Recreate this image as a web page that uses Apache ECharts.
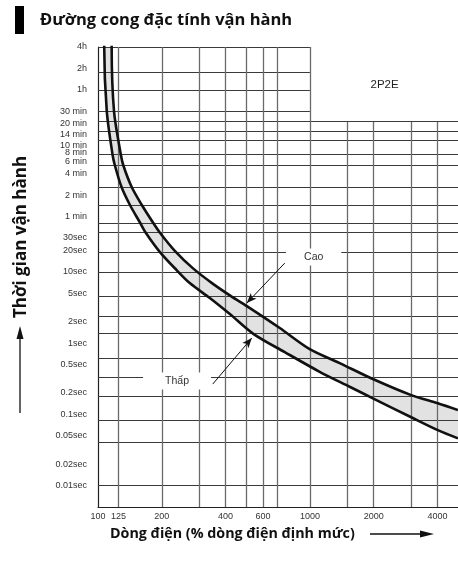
<!DOCTYPE html>
<html><head><meta charset="utf-8">
<script src="https://cdn.jsdelivr.net/npm/echarts@6/dist/echarts.min.js"></script>
<style>html,body{margin:0;padding:0;background:#fff}#c{width:458px;height:562px}</style>
</head><body><div id="c"></div>
<script>
// ---- data ----
const xTickValues = [100, 125, 200, 400, 600, 1000, 2000, 4000];
const xTickLabels = ['100', '125', '200', '400', '600', '1000', '2000', '4000'];
const xGridFull = [125, 200, 300, 400, 500, 600, 700, 1000];
const xGridLower = [1500, 2000, 3000, 4000];

const yTickValues = [14400, 7200, 3600, 1800, 1200, 840, 600, 480, 360, 240, 120, 60, 30, 20, 10, 5, 2, 1, 0.5, 0.2, 0.1, 0.05, 0.02, 0.01];
const yTickLabels = ['4h', '2h', '1h', '30 min', '20 min', '14 min', '10 min', '8 min', '6 min', '4 min', '2 min', '1 min', '30sec', '20sec', '10sec', '5sec', '2sec', '1sec', '0.5sec', '0.2sec', '0.1sec', '0.05sec', '0.02sec', '0.01sec'];
const yGridShort = [14400, 6300, 3500, 1800];
const yGridFull = [1285, 951, 711, 445, 317, 157, 87, 49, 35.5, 18.6, 9.86, 4.58, 2.40, 1.38, 0.622, 0.337, 0.182, 0.083, 0.0407, 0.01];

// curve "Cao" (upper limit): current in % of rated, time in seconds
const highCurrent = [116, 116, 119, 128, 131.5, 144, 161, 182, 196, 231, 280, 345, 424, 504, 721, 998, 1382, 1983, 3008, 4015, 5000];
const highTime = [20000, 14400, 1816, 452, 317, 157, 87, 49, 35.5, 19.6, 11.3, 6.97, 4.58, 3.31, 1.63, 0.824, 0.525, 0.313, 0.186, 0.143, 0.115];
// curve "Thấp" (lower limit)
const lowCurrent = [107, 107, 110, 117, 120, 129, 141.5, 158, 168, 196, 235, 271, 337, 419, 543, 761, 1112, 1540, 1983, 3008, 4015, 5000];
const lowTime = [20000, 14400, 1816, 452, 317, 157, 87, 49, 35.5, 19.0, 10.6, 6.97, 4.30, 2.56, 1.34, 0.748, 0.396, 0.244, 0.168, 0.091, 0.060, 0.046];

// annotations
const caoLabel = {text: 'Cao', at: [1042, 16.2], arrowFrom: [761, 13.3], arrowTo: [504, 3.65]};
const thapLabel = {text: 'Thấp', at: [236, 0.293], arrowFrom: [348, 0.266], arrowTo: [532, 1.18]};
const modelLabel = {text: '2P2E', at: [2252, 4207]};

const X_MIN = 100, X_MAX = 5000, Y_MIN = 0.005, Y_MAX = 14400;

// ---- build ----
const zip = (a, b) => a.map((v, i) => [v, b[i]]);
const highData = zip(highCurrent, highTime);
const lowData = zip(lowCurrent, lowTime);

function nearestLabel(v, values, labels) {
  let best = 0, bd = Infinity;
  values.forEach((u, i) => { const d = Math.abs(Math.log(u) - Math.log(v)); if (d < bd) { bd = d; best = i; } });
  return labels[best];
}

const hStyle = {color: '#3a3a3a', width: 1, type: 'solid'};
const vStyle = {color: '#6a6a6a', width: 1.3, type: 'solid'};
const gridLines = [];
yGridShort.forEach(t => gridLines.push([{coord: [X_MIN, t], lineStyle: hStyle}, {coord: [1000, t]}]));
yGridFull.forEach(t => gridLines.push([{coord: [X_MIN, t], lineStyle: hStyle}, {coord: [X_MAX, t]}]));
xGridFull.forEach(x => gridLines.push([{coord: [x, Y_MIN], lineStyle: vStyle}, {coord: [x, Y_MAX]}]));
xGridLower.forEach(x => gridLines.push([{coord: [x, Y_MIN], lineStyle: vStyle}, {coord: [x, 1285]}]));

const chart = echarts.init(document.getElementById('c'));
const axisFont = {fontFamily: 'Liberation Sans, Arial, sans-serif', color: '#333'};
const annFont = 'Liberation Sans, Arial, sans-serif';

chart.setOption({
  animation: false,
  backgroundColor: '#fff',
  grid: {left: 98, right: 0, top: 47, bottom: 55},
  xAxis: {
    type: 'log', logBase: 10, min: X_MIN, max: X_MAX,
    axisLine: {show: true, lineStyle: {color: '#222', width: 1.2}},
    axisTick: {show: false}, splitLine: {show: false}, minorSplitLine: {show: false},
    axisLabel: Object.assign({customValues: xTickValues, fontSize: 9, margin: 5, hideOverlap: false,
      formatter: v => nearestLabel(v, xTickValues, xTickLabels)}, axisFont)
  },
  yAxis: {
    type: 'log', logBase: 10, min: Y_MIN, max: Y_MAX,
    axisLine: {show: true, lineStyle: {color: '#222', width: 1.2}},
    axisTick: {show: false}, splitLine: {show: false},
    axisLabel: Object.assign({customValues: yTickValues, fontSize: 9, margin: 11, hideOverlap: false,
      formatter: v => nearestLabel(v, yTickValues, yTickLabels)}, axisFont)
  },
  graphic: [
    {type: 'rect', shape: {x: 15, y: 6, width: 9, height: 28}, style: {fill: '#000'}},
    {type: 'text', x: 40, y: 20, style: {text: 'Đường cong đặc tính vận hành', font: 'bold 16.5px "Open Sans", sans-serif', fill: '#111', textVerticalAlign: 'middle'}},
    {type: 'text', x: 21, y: 237, rotation: Math.PI / 2, style: {text: 'Thời gian vận hành', font: 'bold 17px "Open Sans", sans-serif', fill: '#111', textAlign: 'center', textVerticalAlign: 'middle'}},
    {type: 'line', shape: {x1: 20, y1: 413, x2: 20, y2: 336}, style: {stroke: '#111', lineWidth: 1.3}},
    {type: 'polygon', shape: {points: [[20, 326], [16.5, 339], [23.5, 339]]}, style: {fill: '#111'}},
    {type: 'text', x: 110, y: 534, style: {text: 'Dòng điện (% dòng điện định mức)', font: 'bold 14.3px "Open Sans", sans-serif', fill: '#111', textVerticalAlign: 'middle'}},
    {type: 'line', shape: {x1: 370, y1: 534, x2: 422, y2: 534}, style: {stroke: '#111', lineWidth: 1.3}},
    {type: 'polygon', shape: {points: [[434, 534], [420, 530.5], [420, 537.5]]}, style: {fill: '#111'}}
  ],
  series: [
    {
      type: 'custom', z: 1, clip: true, silent: true,
      data: [highData[0]],
      renderItem: (params, api) => {
        const pts = highData.map(p => api.coord(p)).concat(lowData.slice().reverse().map(p => api.coord(p)));
        return {type: 'polygon', shape: {points: pts, smooth: 0}, style: {fill: '#e2e2e2', stroke: null}};
      }
    },
    {
      type: 'line', data: [], silent: true,
      markLine: {
        silent: true, symbol: ['none', 'none'], z: 5, animation: false,
        label: {show: false},
        emphasis: {disabled: true},
        data: gridLines
      }
    },
    {type: 'line', name: 'Cao', data: highData, smooth: 0.3, symbol: 'none', z: 10, clip: true,
      lineStyle: {color: '#111', width: 2.6}},
    {type: 'line', name: 'Thấp', data: lowData, smooth: 0.3, symbol: 'none', z: 10, clip: true,
      lineStyle: {color: '#111', width: 2.6}},
    {
      type: 'line', data: [], silent: true,
      markLine: {
        silent: true, z: 12, symbol: ['none', 'arrow'], symbolSize: [6, 10], animation: false,
        label: {show: false}, lineStyle: {color: '#111', width: 1, type: 'solid'},
        data: [
          [{coord: caoLabel.arrowFrom}, {coord: caoLabel.arrowTo}],
          [{coord: thapLabel.arrowFrom}, {coord: thapLabel.arrowTo}]
        ]
      },
      markPoint: {
        silent: true, z: 11, symbol: 'rect', symbolSize: 0, animation: false,
        data: [
          {coord: caoLabel.at, label: {show: true, position: 'inside', formatter: caoLabel.text, fontSize: 10.5, color: '#333', fontFamily: annFont, backgroundColor: '#fff', padding: [3, 18]}},
          {coord: thapLabel.at, label: {show: true, position: 'inside', formatter: thapLabel.text, fontSize: 10.5, color: '#333', fontFamily: annFont, backgroundColor: '#fff', padding: [3, 22]}},
          {coord: modelLabel.at, label: {show: true, position: 'inside', formatter: modelLabel.text, fontSize: 11.5, color: '#222', fontFamily: annFont}}
        ]
      }
    }
  ]
});
</script>
</body></html>
